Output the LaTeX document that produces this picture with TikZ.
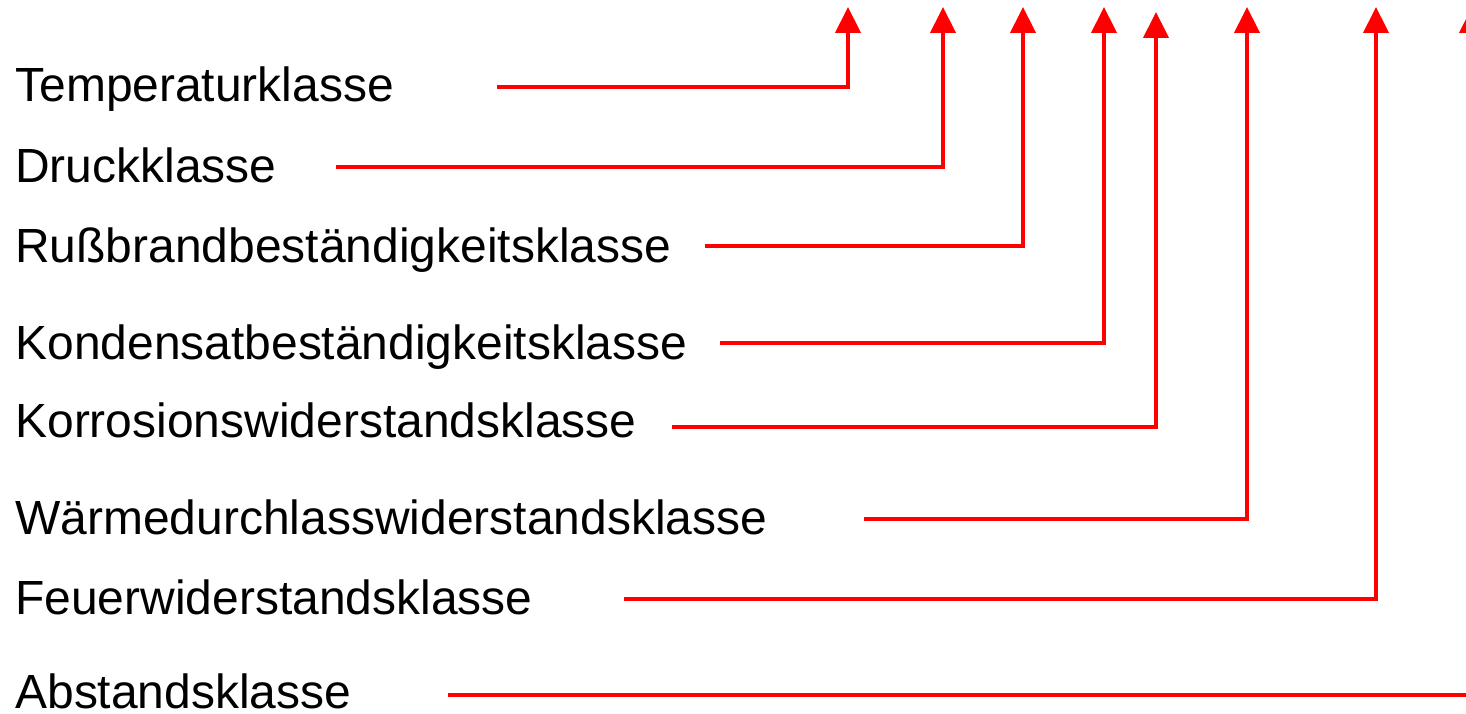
\documentclass[tikz,border=0pt]{standalone}
\usepackage{fontspec}
\setmainfont{Liberation Sans}
\usetikzlibrary{arrows.meta}
\tikzset{
klasse/.style={anchor=base west, inner sep=0pt, font=\fontsize{27.3}{33}\selectfont},
pfeil/.style={draw=red, line width=2.4pt, -{Triangle[width=0.5cm, length=0.52cm]}},
}

\begin{document}
\begin{tikzpicture}[x=0.02cm, y=-0.02cm]
\useasboundingbox (0,0) rectangle (1466,713);
    \node[klasse] (temp) at (15,101) {Temperaturklasse};
    \node[klasse] (druck) at (15,182) {Druckklasse};
    \node[klasse] (russ) at (15,262) {Rußbrandbeständigkeitsklasse};
    \node[klasse] (kond) at (15,359) {Kondensatbeständigkeitsklasse};
    \node[klasse] (korr) at (15,437) {Korrosionswiderstandsklasse};
    \node[klasse] (waerme) at (15,534) {Wärmedurchlasswiderstandsklasse};
    \node[klasse] (feuer) at (15,614) {Feuerwiderstandsklasse};
    \node[klasse] (abst) at (15,708) {Abstandsklasse};

    % Anfang der Linien
    \coordinate (temp-a) at (497,87);
    \coordinate (druck-a) at (336,167);
    \coordinate (russ-a) at (705,246);
    \coordinate (kond-a) at (720,343);
    \coordinate (korr-a) at (672,427);
    \coordinate (waerme-a) at (864,519);
    \coordinate (feuer-a) at (624,599);
    \coordinate (abst-a) at (448,695);

    % Pfeilspitzen oben
    \coordinate (temp-z) at (848,7);
    \coordinate (druck-z) at (943,7);
    \coordinate (russ-z) at (1023,7);
    \coordinate (kond-z) at (1104,7);
    \coordinate (korr-z) at (1156,12);
    \coordinate (waerme-z) at (1247,7);
    \coordinate (feuer-z) at (1376,7);
    \coordinate (abst-z) at (1472,7);

    \draw[pfeil] (temp-a) -| (temp-z);
    \draw[pfeil] (druck-a) -| (druck-z);
    \draw[pfeil] (russ-a) -| (russ-z);
    \draw[pfeil] (kond-a) -| (kond-z);
    \draw[pfeil] (korr-a) -| (korr-z);
    \draw[pfeil] (waerme-a) -| (waerme-z);
    \draw[pfeil] (feuer-a) -| (feuer-z);
    \draw[pfeil] (abst-a) -| (abst-z);
\end{tikzpicture}
\end{document}
